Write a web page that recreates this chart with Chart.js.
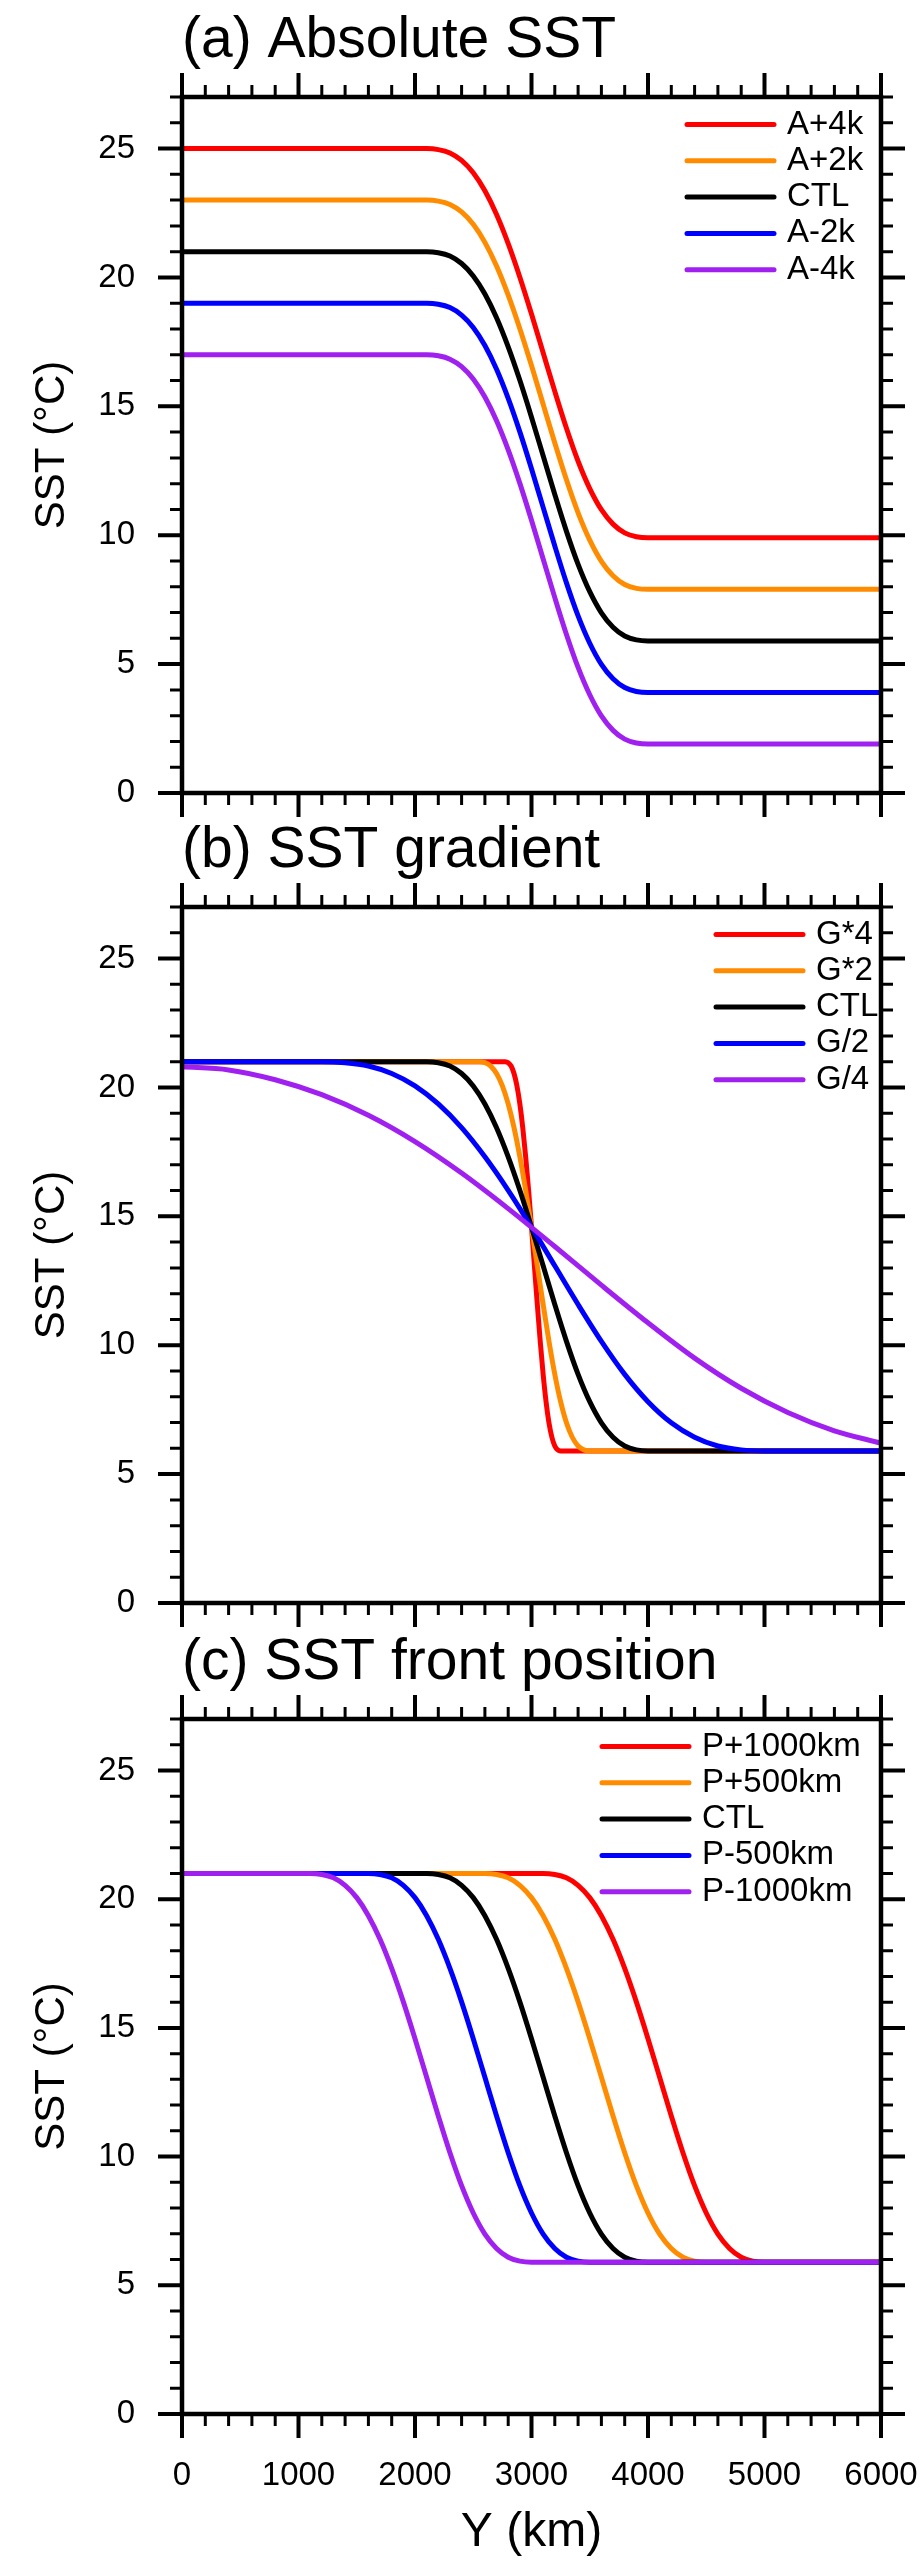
<!DOCTYPE html>
<html>
<head>
<meta charset="utf-8">
<script src="https://cdn.jsdelivr.net/npm/chart.js@4.4.1/dist/chart.umd.min.js"></script>
<style>
  html, body { margin: 0; padding: 0; background: #fff; }
  body { width: 922px; height: 2560px; position: relative; }
  .panel { position: absolute; left: 0; width: 922px; }
</style>
</head>
<body>
<div class="panel" style="top:0;height:823px"><canvas id="chartA"></canvas></div>
<div class="panel" style="top:823px;height:810px"><canvas id="chartB"></canvas></div>
<div class="panel" style="top:1633px;height:927px"><canvas id="chartC"></canvas></div>
<script>
// Y (km) knots and SST (degC)
const yKmCtl = [0, 2000, 2100, 2200, 2300, 2400, 2500, 2600, 2700, 2800, 2900, 3000, 3100, 3200, 3300, 3400, 3500, 3600, 3700, 3800, 3900, 4000, 6000];
const sstCtl = [21, 21, 21, 20.96, 20.83, 20.54, 20.06, 19.36, 18.44, 17.31, 16.01, 14.58, 13.08, 11.58, 10.15, 8.87, 7.81, 6.99, 6.43, 6.09, 5.94, 5.9, 5.9];

// (a) absolute SST
const sstA4 = [25, 25, 25, 24.96, 24.83, 24.54, 24.06, 23.36, 22.44, 21.31, 20.01, 18.58, 17.08, 15.58, 14.15, 12.87, 11.81, 10.99, 10.43, 10.09, 9.94, 9.9, 9.9];
const sstA2 = [23, 23, 23, 22.96, 22.83, 22.54, 22.06, 21.36, 20.44, 19.31, 18.01, 16.58, 15.08, 13.58, 12.15, 10.87, 9.81, 8.99, 8.43, 8.09, 7.94, 7.9, 7.9];
const sstAm2 = [19, 19, 19, 18.96, 18.83, 18.54, 18.06, 17.36, 16.44, 15.31, 14.01, 12.58, 11.08, 9.58, 8.15, 6.87, 5.81, 4.99, 4.43, 4.09, 3.94, 3.9, 3.9];
const sstAm4 = [17, 17, 17, 16.96, 16.83, 16.54, 16.06, 15.36, 14.44, 13.31, 12.01, 10.58, 9.08, 7.58, 6.15, 4.87, 3.81, 2.99, 2.43, 2.09, 1.94, 1.9, 1.9];

// (b) SST gradient
const yKmG4 = [0, 2750, 2775, 2800, 2825, 2850, 2875, 2900, 2925, 2950, 2975, 3000, 3025, 3050, 3075, 3100, 3125, 3150, 3175, 3200, 3225, 3250, 6000];
const yKmG2 = [0, 2500, 2550, 2600, 2650, 2700, 2750, 2800, 2850, 2900, 2950, 3000, 3050, 3100, 3150, 3200, 3250, 3300, 3350, 3400, 3450, 3500, 6000];
const yKmGh = [0, 1000, 1200, 1400, 1600, 1800, 2000, 2200, 2400, 2600, 2800, 3000, 3200, 3400, 3600, 3800, 4000, 4200, 4400, 4600, 4800, 5000, 6000];
const yKmGq = [0, 400, 800, 1200, 1600, 2000, 2400, 2800, 3200, 3600, 4000, 4400, 4800, 5200, 5600, 6000];
const sstGq = [20.8, 20.68, 20.3, 19.72, 18.92, 17.9, 16.68, 15.3, 13.83, 12.33, 10.87, 9.5, 8.33, 7.39, 6.68, 6.2];

// (c) SST front position
const yKmP1000 = [0, 3000, 3100, 3200, 3300, 3400, 3500, 3600, 3700, 3800, 3900, 4000, 4100, 4200, 4300, 4400, 4500, 4600, 4700, 4800, 4900, 5000, 6000];
const yKmP500 = [0, 2500, 2600, 2700, 2800, 2900, 3000, 3100, 3200, 3300, 3400, 3500, 3600, 3700, 3800, 3900, 4000, 4100, 4200, 4300, 4400, 4500, 6000];
const yKmM500 = [0, 1500, 1600, 1700, 1800, 1900, 2000, 2100, 2200, 2300, 2400, 2500, 2600, 2700, 2800, 2900, 3000, 3100, 3200, 3300, 3400, 3500, 6000];
const yKmM1000 = [0, 1000, 1100, 1200, 1300, 1400, 1500, 1600, 1700, 1800, 1900, 2000, 2100, 2200, 2300, 2400, 2500, 2600, 2700, 2800, 2900, 3000, 6000];

const FONT = "'Liberation Sans', Arial, Helvetica, sans-serif";
const COLORS = ['#ff0000', '#ff8c00', '#000000', '#0000ff', '#a020f0'];

function pts(xs, ys) {
    return xs.map((x, i) => ({ x: x, y: ys[i] }));
}

// frame, outward major/minor ticks on all four sides, and the legend
const frameAndLegend = {
    id: 'frameAndLegend',
    afterDatasetsDraw(chart, args, opts) {
        const { ctx, chartArea: a, scales: { x, y } } = chart;
        ctx.save();
        ctx.strokeStyle = '#000';
        ctx.lineCap = 'butt';
        x.ticks.forEach(t => {
            const px = x.getPixelForValue(t.value);
            const major = Math.round(t.value) % 1000 === 0;
            const len = major ? 24 : 12;
            ctx.lineWidth = major ? 4 : 3;
            ctx.beginPath();
            ctx.moveTo(px, a.bottom); ctx.lineTo(px, a.bottom + len);
            ctx.moveTo(px, a.top); ctx.lineTo(px, a.top - len);
            ctx.stroke();
        });
        y.ticks.forEach(t => {
            const py = y.getPixelForValue(t.value);
            const major = Math.round(t.value) % 5 === 0;
            const len = major ? 24 : 12;
            ctx.lineWidth = major ? 4 : 3;
            ctx.beginPath();
            ctx.moveTo(a.left, py); ctx.lineTo(a.left - len, py);
            ctx.moveTo(a.right, py); ctx.lineTo(a.right + len, py);
            ctx.stroke();
        });
        ctx.lineWidth = 4.5;
        ctx.strokeRect(a.left, a.top, a.right - a.left, a.bottom - a.top);

        ctx.font = '33px ' + FONT;
        ctx.textBaseline = 'middle';
        ctx.textAlign = 'left';
        ctx.lineCap = 'round';
        chart.data.datasets.forEach((ds, i) => {
            const cy = a.top + opts.rowTop + i * opts.rowGap;
            const x0 = a.left + opts.left;
            ctx.strokeStyle = ds.borderColor;
            ctx.lineWidth = 5;
            ctx.beginPath();
            ctx.moveTo(x0, cy); ctx.lineTo(x0 + 87, cy);
            ctx.stroke();
            ctx.fillStyle = '#000';
            ctx.fillText(ds.label, x0 + 100, cy);
        });
        ctx.restore();
    }
};

function makePanel(id, title, labels, series, opts) {
    const datasets = series.map((s, i) => ({
        label: labels[i],
        data: pts(s[0], s[1]),
        borderColor: COLORS[i],
        borderWidth: 5,
        pointRadius: 0,
        fill: false,
        cubicInterpolationMode: 'monotone',
        order: 4 - i
    }));

    new Chart(document.getElementById(id), {
        type: 'line',
        data: { datasets: datasets },
        options: {
            responsive: true,
            maintainAspectRatio: false,
            animation: false,
            layout: { padding: { top: opts.padTop, left: 0, right: 41, bottom: 0 } },
            plugins: {
                legend: { display: false },
                tooltip: { enabled: false },
                title: {
                    display: true,
                    text: title,
                    align: 'start',
                    fullSize: false,
                    color: '#000',
                    font: { family: FONT, size: 57, weight: 'normal', lineHeight: 1 },
                    padding: { top: 0, bottom: 27 }
                },
                frameAndLegend: { left: opts.legendLeft, rowTop: 27.5, rowGap: 36.3 }
            },
            scales: {
                x: {
                    type: 'linear',
                    min: 0,
                    max: 6000,
                    grid: { display: false, drawTicks: false },
                    border: { display: false },
                    ticks: {
                        display: opts.xLabels,
                        stepSize: 200,
                        autoSkip: false,
                        maxRotation: 0,
                        minRotation: 0,
                        padding: 45,
                        color: '#000',
                        font: { family: FONT, size: 33, lineHeight: 1 },
                        callback: v => (v % 1000 === 0 ? v : '')
                    },
                    title: {
                        display: opts.xLabels,
                        text: 'Y (km)',
                        color: '#000',
                        font: { family: FONT, size: 48, lineHeight: 1 },
                        padding: { top: 0, bottom: 3 }
                    },
                    afterFit: s => {
                        s.height = opts.xHeight;
                        s.paddingLeft = 0;
                        s.paddingRight = 0;
                    }
                },
                y: {
                    min: 0,
                    max: 27,
                    grid: { display: false, drawTicks: false },
                    border: { display: false },
                    ticks: {
                        stepSize: 1,
                        autoSkip: false,
                        includeBounds: false,
                        padding: 47,
                        color: '#000',
                        font: { family: FONT, size: 33, lineHeight: 1 },
                        callback: v => (v % 5 === 0 ? v : '')
                    },
                    title: {
                        display: true,
                        text: 'SST (°C)',
                        color: '#000',
                        font: { family: FONT, size: 42, lineHeight: 1 },
                        padding: { top: 31, bottom: 0 }
                    },
                    afterFit: s => {
                        s.width = 182;
                        s.paddingTop = 0;
                        s.paddingBottom = 0;
                    }
                }
            }
        },
        plugins: [frameAndLegend]
    });
}

makePanel('chartA', '(a) Absolute SST',
    ['A+4k', 'A+2k', 'CTL', 'A-2k', 'A-4k'],
    [[yKmCtl, sstA4], [yKmCtl, sstA2], [yKmCtl, sstCtl], [yKmCtl, sstAm2], [yKmCtl, sstAm4]],
    { padTop: 13, xHeight: 30, xLabels: false, legendLeft: 505 });

makePanel('chartB', '(b) SST gradient',
    ['G*4', 'G*2', 'CTL', 'G/2', 'G/4'],
    [[yKmG4, sstCtl], [yKmG2, sstCtl], [yKmCtl, sstCtl], [yKmGh, sstCtl], [yKmGq, sstGq]],
    { padTop: 0, xHeight: 30, xLabels: false, legendLeft: 534 });

makePanel('chartC', '(c) SST front position',
    ['P+1000km', 'P+500km', 'CTL', 'P-500km', 'P-1000km'],
    [[yKmP1000, sstCtl], [yKmP500, sstCtl], [yKmCtl, sstCtl], [yKmM500, sstCtl], [yKmM1000, sstCtl]],
    { padTop: 2, xHeight: 146, xLabels: true, legendLeft: 420 });
</script>
</body>
</html>
